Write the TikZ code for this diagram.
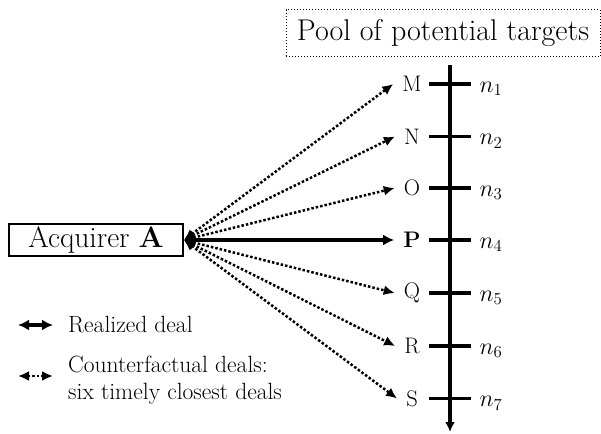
\RequirePackage{fix-cm}
\documentclass[tikz,border=0pt]{standalone}
\usetikzlibrary{arrows.meta}
\begin{document}
\begin{tikzpicture}[x=1pt,y=-1pt,
  real/.style={{Latex[length=11pt,width=11pt]}-{Latex[length=11pt,width=11pt]}, line width=3.2pt},
  cf/.style={{Latex[length=11pt,width=10pt]}-{Latex[length=11pt,width=10pt]}, dotted, line width=2.5pt},
  box/.style={draw, line width=1.6pt, minimum width=174pt, minimum height=32pt, inner sep=0pt, font=\fontsize{29.5}{33}\selectfont},
  pool/.style={draw, dotted, line width=1pt, minimum width=314pt, minimum height=47pt, inner sep=0pt, font=\fontsize{30}{34}\selectfont},
  lab/.style={inner sep=0pt, inner xsep=9pt, font=\fontsize{22.5}{26}\selectfont},
  nlab/.style={inner sep=0pt, font=\fontsize{24}{28}\selectfont},
  leg/.style={inner sep=0pt, anchor=west, align=left, font=\fontsize{23.5}{27}\selectfont},
  axis/.style={line width=3.5pt},
]
\useasboundingbox (0,0) rectangle (601,433);
\node[box] (A) at (96,240) {Acquirer \textbf{A}};
\node[pool] (pool) at (443,33.5) {Pool of potential targets};
\coordinate (top) at (450,65);
\coordinate (bot) at (450,432);
\draw[axis, -{Latex[length=10pt,width=10pt]}] (top) -- (bot);
\foreach \nm/\y/\k in {M/84/1,N/136.5/2,O/188/3,P/240/4,Q/293/5,R/346/6,S/398.5/7}{
  \coordinate (tl\k) at (429,\y);
  \coordinate (tr\k) at (471,\y);
  \draw[axis] (tl\k) -- (tr\k);
  \node[nlab] (n\k) at (491,\y+5) {$n_{\k}$};
}
\foreach \nm/\y in {M/84,N/136.5,O/188,Q/293,R/346,S/398.5}{
  \node[lab] (\nm) at (412,\y) {\nm};
  \draw[cf] (A.east) -- (\nm.west);
}
\node[lab] (P) at (412,240) {\textbf{P}};
\draw[real] (A.east) -- (P.west);
% legend
\coordinate (r1) at (18,325);
\coordinate (r2) at (53,325);
\draw[real] (r1) -- (r2);
\node[leg] (rtext) at (68,325) {Realized deal};
\coordinate (c1) at (18,376);
\coordinate (c2) at (53,376);
\draw[cf] (c1) -- (c2);
\node[leg] (ctext) at (68,380) {Counterfactual deals:\\six timely closest deals};
\end{tikzpicture}
\end{document}
